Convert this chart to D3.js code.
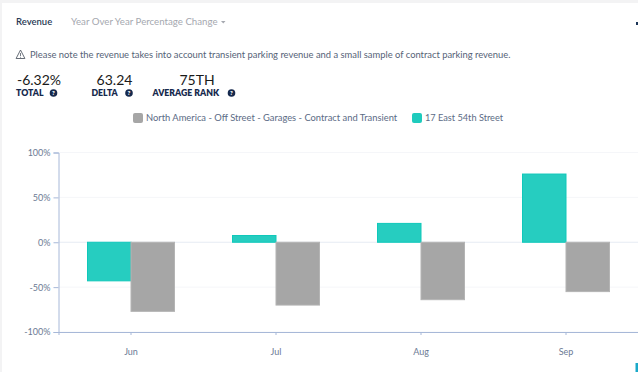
<!DOCTYPE html>
<html><head><meta charset="utf-8">
<script src="https://cdn.jsdelivr.net/npm/d3@7"></script>
<style>html,body{margin:0;padding:0;background:#fff;overflow:hidden}svg{display:block}text{font-family:Lato,"Open Sans",sans-serif}</style>
</head><body><svg id="c" width="638" height="372"></svg>
<script>
const months = ["Jun","Jul","Aug","Sep"];
const seriesNames = ["17 East 54th Street","North America - Off Street - Garages - Contract and Transient"];
const property = [-43,7.5,21,76];
const market = [-77,-70,-64,-55];
const yTicks = [100,50,0,-50,-100];
const statValues = ["-6.32%","63.24","75TH"];
const statLabels = ["TOTAL","DELTA","AVERAGE RANK"];
const svg = d3.select("#c");
svg.append("rect").attr("width",638).attr("height",372).attr("fill","#f3f3f4");
svg.append("rect").attr("x",2).attr("y",3).attr("width",636).attr("height",369).attr("fill","#fff");
const txt=(x,y,s,size,fill,anchor,weight)=>svg.append("text").attr("x",x).attr("y",y).text(s).attr("font-size",size).attr("fill",fill).attr("text-anchor",anchor||"start").attr("font-weight",weight||400);
txt(16,25,"Revenue",9.5,"#2a3a55","start",600);
txt(71,25,"Year Over Year Percentage Change",9.7,"#a5a8af");
svg.append("path").attr("d","M221 21h4.5l-2.25 2.6z").attr("fill","#a5a8af");
svg.append("path").attr("d","M20.5 50l4.4 8.5h-8.8z").attr("fill","none").attr("stroke","#555c68").attr("stroke-width",.9);
svg.append("path").attr("d","M20.5 53v3M20.5 56.8v.9").attr("stroke","#555c68").attr("stroke-width",.8);
txt(30,57.5,"Please note the revenue takes into account transient parking revenue and a small sample of contract parking revenue.",9.4,"#566377");
const sx=[39,114.5,197], lx=[16,91.5,152.5], qx=[53.5,129,231.5];
statValues.forEach((s,i)=>{txt(sx[i],85,s,14,"#1a1a1a","middle");});
statLabels.forEach((s,i)=>{txt(lx[i],96,s,8.7,"#16294d","start",800);
 svg.append("circle").attr("cx",qx[i]).attr("cy",93).attr("r",3.8).attr("fill","#16294d");
 txt(qx[i],95.3,"?",6,"#fff","middle",800);});
svg.append("rect").attr("x",133).attr("y",113).attr("width",10).attr("height",10).attr("rx",2).attr("fill","#a6a6a6");
txt(146,120.5,seriesNames[1],9.35,"#5b6b85");
svg.append("rect").attr("x",412).attr("y",113).attr("width",10).attr("height",10).attr("rx",2).attr("fill","#1fcbbd");
txt(425,120.5,seriesNames[0],9.2,"#5b6b85");
const x=d3.scaleBand().domain(months).range([58.5,638.5]);
const y=d3.scaleLinear().domain([-100,100]).range([332,152.5]);
const bw=43.5;
const g=svg.append("g");
yTicks.forEach(t=>g.append("line").attr("x1",58.5).attr("x2",638).attr("y1",y(t)).attr("y2",y(t)).attr("stroke",t===0?"#e6ebf3":"#f5f6f9"));
const yAxis=d3.axisLeft(y).tickValues(yTicks).tickFormat(d=>d+"%").tickSize(5).tickPadding(3);
const ya=svg.append("g").attr("transform","translate(58.5,0)").call(yAxis);
ya.selectAll("text").attr("font-size",9).attr("fill","#6b7a94").style("font-family","Lato,sans-serif");
ya.selectAll("line,path").attr("stroke","#a7b8d8");
const xAxis=d3.axisBottom(x).tickSize(3).tickPadding(14);
const xa=svg.append("g").attr("transform","translate(0,332)").call(xAxis);
xa.selectAll("text").attr("font-size",9).attr("fill","#6b7a94").style("font-family","Lato,sans-serif");
xa.selectAll("line,path").attr("stroke","#a7b8d8");
const bar=(data,off,fill,stroke)=>svg.append("g").selectAll("rect").data(data).join("rect")
 .attr("x",(d,i)=>x(months[i])+x.bandwidth()/2+off)
 .attr("width",bw).attr("y",d=>Math.min(y(d),y(0))).attr("height",d=>Math.abs(y(d)-y(0)))
 .attr("fill",fill).attr("stroke",stroke).attr("stroke-width",1);
bar(property,-bw,"#26cdc0","#0fc8ba");
bar(market,0,"#a6a6a6","#b4b4b4");
svg.append("rect").attr("x",635.5).attr("y",363).attr("width",2.5).attr("height",9).attr("fill","#1aa9c9");
svg.append("rect").attr("x",636).attr("y",22).attr("width",2).attr("height",3).attr("fill","#1c3557");
</script></body></html>
